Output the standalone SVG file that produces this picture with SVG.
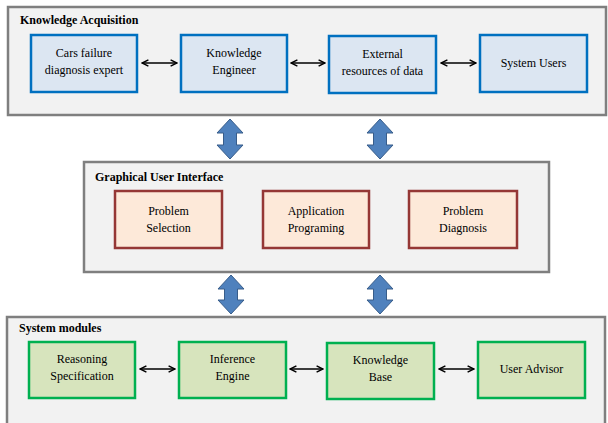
<svg xmlns="http://www.w3.org/2000/svg" width="608" height="423" viewBox="0 0 608 423">
<style>
text{font-family:"Liberation Serif","DejaVu Serif Condensed","DejaVu Serif",serif}
.panel{fill:#f2f2f2;stroke:#7f7f7f;stroke-width:2.5}
.title{font-weight:bold;font-size:12px;fill:#000}
.t{font-size:12px;fill:#000;text-anchor:middle}
.blue{fill:#dce6f2;stroke:#0070c0;stroke-width:2.5}
.red{fill:#fde9d9;stroke:#953735;stroke-width:2.5}
.green{fill:#d7e4bd;stroke:#00b050;stroke-width:2.5}
.conn{stroke:#000;stroke-width:1.5;fill:none;marker-start:url(#ah);marker-end:url(#ah)}
.big{fill:#4f81bd;stroke:#385d8a;stroke-width:1}
</style>
<defs>
<marker id="ah" viewBox="0 0 10 10" refX="9" refY="5" markerWidth="8" markerHeight="8" markerUnits="userSpaceOnUse" orient="auto-start-reverse">
<polyline points="1,1 9,5 1,9" fill="none" stroke="#000" stroke-width="1.8"/>
</marker>
</defs>
<g id="panel-ka">
<rect class="panel" x="8" y="7" width="598" height="108"/>
<text class="title" x="20" y="24">Knowledge Acquisition</text>
</g>
<g id="panel-gui">
<rect class="panel" x="84" y="162" width="465" height="110"/>
<text class="title" x="95" y="181">Graphical User Interface</text>
</g>
<g id="panel-sm">
<rect class="panel" x="7" y="317" width="598" height="115"/>
<text class="title" x="19" y="332">System modules</text>
</g>
<g id="n-expert"><rect class="blue" x="31" y="35" width="106" height="57"/><text class="t" x="84" y="57">Cars failure</text><text class="t" x="84" y="74">diagnosis expert</text></g>
<g id="n-engineer"><rect class="blue" x="181" y="35" width="106" height="57"/><text class="t" x="234" y="57">Knowledge</text><text class="t" x="234" y="74">Engineer</text></g>
<g id="n-external"><rect class="blue" x="329" y="36" width="107" height="57"/><text class="t" x="382.5" y="58">External</text><text class="t" x="382.5" y="75">resources of data</text></g>
<g id="n-users"><rect class="blue" x="480" y="35" width="107" height="57"/><text class="t" x="533.5" y="67">System Users</text></g>
<g id="n-selection"><rect class="red" x="115" y="191" width="107" height="57"/><text class="t" x="168.5" y="215">Problem</text><text class="t" x="168.5" y="232">Selection</text></g>
<g id="n-app"><rect class="red" x="263" y="191" width="106" height="57"/><text class="t" x="316" y="215">Application</text><text class="t" x="316" y="232">Programing</text></g>
<g id="n-diagnosis"><rect class="red" x="409" y="191" width="108" height="57"/><text class="t" x="463" y="215">Problem</text><text class="t" x="463" y="232">Diagnosis</text></g>
<g id="n-reasoning"><rect class="green" x="29" y="342" width="106" height="56"/><text class="t" x="82" y="363">Reasoning</text><text class="t" x="82" y="380">Specification</text></g>
<g id="n-inference"><rect class="green" x="179" y="342" width="107" height="56"/><text class="t" x="232.5" y="363">Inference</text><text class="t" x="232.5" y="380">Engine</text></g>
<g id="n-kb"><rect class="green" x="327" y="343" width="107" height="56"/><text class="t" x="380.5" y="364">Knowledge</text><text class="t" x="380.5" y="381">Base</text></g>
<g id="n-advisor"><rect class="green" x="478" y="342" width="107" height="56"/><text class="t" x="531.5" y="373">User Advisor</text></g>
<g id="connectors">
<line class="conn" x1="142" y1="63" x2="177" y2="63"/>
<line class="conn" x1="291" y1="63" x2="325" y2="63"/>
<line class="conn" x1="441" y1="63" x2="476" y2="63"/>
<line class="conn" x1="140" y1="369" x2="175" y2="369"/>
<line class="conn" x1="290" y1="369" x2="323" y2="369"/>
<line class="conn" x1="439" y1="369" x2="474" y2="369"/>
<path class="big" d="M230,119 L243,133 L236.5,133 L236.5,145 L243,145 L230,159 L217,145 L223.5,145 L223.5,133 L217,133 Z"/>
<path class="big" d="M380,119 L393,133 L386.5,133 L386.5,145 L393,145 L380,159 L367,145 L373.5,145 L373.5,133 L367,133 Z"/>
<path class="big" d="M231,275 L244,289 L237.5,289 L237.5,300 L244,300 L231,314 L218,300 L224.5,300 L224.5,289 L218,289 Z"/>
<path class="big" d="M380,275 L393,289 L386.5,289 L386.5,300 L393,300 L380,314 L367,300 L373.5,300 L373.5,289 L367,289 Z"/>
</g>
</svg>
